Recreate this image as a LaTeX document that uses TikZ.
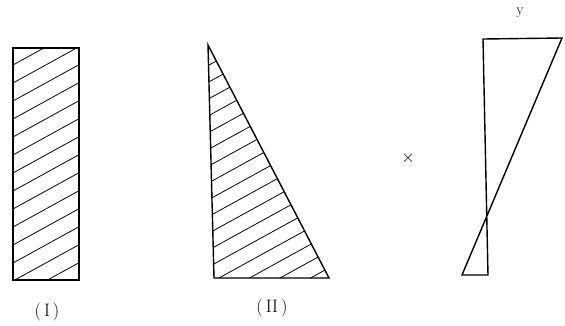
\documentclass[tikz,border=0pt]{standalone}
\usepackage{tikz}
\usetikzlibrary{positioning}

\begin{document}
\begin{tikzpicture}[x=1pt, y=-1pt,
    outline/.style={line width=1.4pt},
    hatch/.style={line width=0.8pt},
    label/.style={font=\fontsize{18}{20}\selectfont}]
    \useasboundingbox (0,0) rectangle (565,325);
    % (I) hatched rectangle
    \coordinate (recttl) at (13,48);
    \coordinate (rectbr) at (79,280);
    \begin{scope}
        \clip (recttl) rectangle (rectbr);
        \foreach \k in {0,...,14}
            \draw[hatch] (13,65+18*\k) -- ++(80,-44);
    \end{scope}
    \draw[outline] (recttl) rectangle (rectbr);
    \node[label] (labelone) at (47,312) {(\,I\,)};
    % (II) hatched triangle
    \coordinate (tritop) at (208,45);
    \coordinate (trileft) at (214,278);
    \coordinate (triright) at (329,278);
    \begin{scope}
        \clip (tritop) -- (trileft) -- (triright) -- cycle;
        \foreach \k in {0,...,17}
            \draw[hatch] (200,70+16.8*\k) -- ++(150,-82.5);
    \end{scope}
    \draw[outline] (tritop) -- (trileft) -- (triright) -- cycle;
    \node[label] (labeltwo) at (272,308) {(\,II\,)};
    % times sign
    \node[font=\fontsize{18}{20}\selectfont] (times) at (408,158) {$\times$};
    % y diagram
    \coordinate (ytopleft) at (483,39);
    \coordinate (ytopright) at (562,38);
    \coordinate (ybotright) at (488,275);
    \coordinate (ybotleft) at (462,275);
    \draw[outline] (ybotright) -- (ytopleft) -- (ytopright) -- (ybotleft) -- cycle;
    \node[font=\fontsize{15}{17}\selectfont] (ylabel) at (520,13) {y};
\end{tikzpicture}
\end{document}
